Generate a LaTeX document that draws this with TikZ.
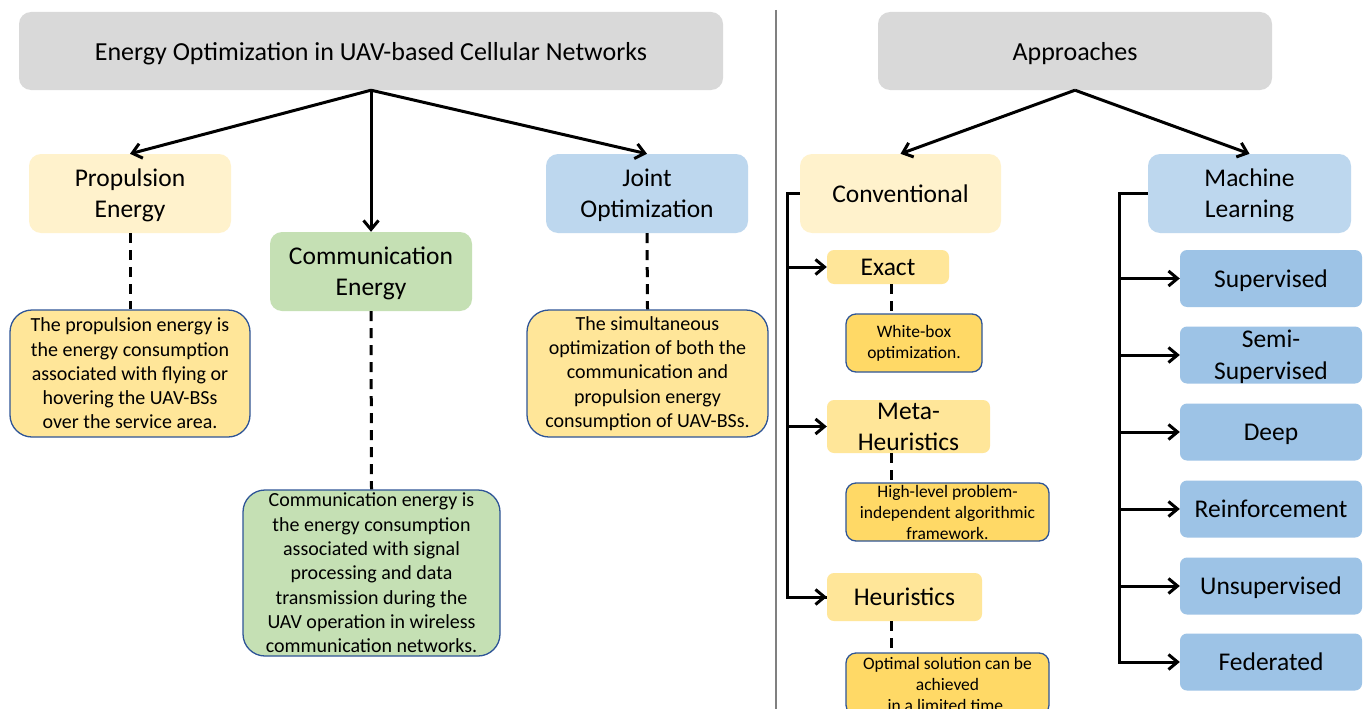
\documentclass[tikz,border=0pt]{standalone}
\usepackage{fontspec}
\setmainfont{Carlito}
\usetikzlibrary{arrows.meta}
\definecolor{titlegray}{HTML}{D9D9D9}
\definecolor{lightyellow}{HTML}{FFF2CC}
\definecolor{midyellow}{HTML}{FFE699}
\definecolor{darkyellow}{HTML}{FFD966}
\definecolor{lightgreen}{HTML}{C5E0B4}
\definecolor{lightblue}{HTML}{BDD7EE}
\definecolor{midblue}{HTML}{9DC3E6}
\definecolor{borderblue}{HTML}{2F5597}
\definecolor{sepgray}{HTML}{808080}
\begin{document}
\begin{tikzpicture}[x=1pt,y=-1pt,
  box/.style={rounded corners=12pt, inner sep=0pt, align=center, text depth=0pt, font=\fontsize{25.5}{31}\selectfont},
  subbox/.style={rounded corners=7pt, inner sep=0pt, align=center, text depth=0pt, font=\fontsize{25.5}{31}\selectfont},
  desc/.style={draw=borderblue, line width=1.3pt, rounded corners=22pt, inner sep=0pt, align=center, font=\fontsize{20}{24.3}\selectfont},
  smalldesc/.style={draw=borderblue, line width=1.3pt, rounded corners=10pt, inner sep=0pt, align=center, font=\fontsize{17.5}{21}\selectfont},
  arr/.style={line width=3pt, -{Straight Barb[length=9pt,width=15pt,line width=3pt]}},
  dashline/.style={line width=3pt, dash pattern=on 10pt off 7pt}
]
\clip (0,0) rectangle (1370,709);
\fill[white] (0,0) rectangle (1370,709);

% separator
\draw[sepgray, line width=1.5pt] (776,10) -- (776,709);

% left side
\node[box, fill=titlegray, minimum width=704, minimum height=78, font=\fontsize{26}{31}\selectfont] (title) at (371,51) {Energy Optimization in UAV-based Cellular Networks};
\node[box, fill=lightyellow, minimum width=202, minimum height=79] (prop) at (130,193.5) {Propulsion\\Energy};
\node[box, fill=lightgreen, minimum width=202, minimum height=79] (comm) at (371,271.5) {Communication\\Energy};
\node[box, fill=lightblue, minimum width=202, minimum height=79] (joint) at (647,193.5) {Joint\\Optimization};

\node[desc, fill=midyellow, minimum width=240, minimum height=127] (propd) at (130,373.5) {The propulsion energy is\\the energy consumption\\associated with flying or\\hovering the UAV-BSs\\over the service area.};
\node[desc, fill=lightgreen, minimum width=257, minimum height=166] (commd) at (371.5,573) {Communication energy is\\the energy consumption\\associated with signal\\processing and data\\transmission during the\\UAV operation in wireless\\communication networks.};
\node[desc, fill=midyellow, minimum width=241, minimum height=127] (jointd) at (647.5,373.5) {The simultaneous\\optimization of both the\\communication and\\propulsion energy\\consumption of UAV-BSs.};

\draw[arr] (title.south) -- (prop.north);
\draw[arr] (title.south) -- (comm.north);
\draw[arr] (title.south) -- (joint.north);

\draw[dashline] (prop.south) -- (propd.north);
\draw[dashline] (comm.south) -- (commd.north);
\draw[dashline] (joint.south) -- (jointd.north);

% right side
\node[box, fill=titlegray, minimum width=394, minimum height=78, font=\fontsize{26}{31}\selectfont] (appr) at (1075,51) {Approaches};
\node[box, fill=lightyellow, minimum width=201, minimum height=79] (conv) at (900.5,193.5) {Conventional};
\node[box, fill=lightblue, minimum width=203, minimum height=79] (ml) at (1249.5,193.5) {Machine\\Learning};

\draw[arr] (appr.south) -- (conv.north);
\draw[arr] (appr.south) -- (ml.north);

\node[subbox, fill=midyellow, minimum width=122, minimum height=34] (exact) at (888,267) {Exact};
\node[smalldesc, fill=darkyellow, minimum width=136, minimum height=58] (wb) at (914,343) {White-box\\optimization.};
\node[subbox, fill=midyellow, minimum width=163, minimum height=53] (meta) at (908.5,426.5) {Meta-\\Heuristics};
\node[smalldesc, fill=darkyellow, minimum width=203, minimum height=58] (hl) at (947.5,512) {High-level problem-\\independent algorithmic\\framework.};
\node[subbox, fill=midyellow, minimum width=155, minimum height=48] (heur) at (904.5,597) {Heuristics};
\node[smalldesc, fill=darkyellow, minimum width=203, minimum height=62] (opt) at (947.5,684) {Optimal solution can be\\achieved\\in a limited time.};

\draw[line width=3pt] (conv.west) -- ++(-12,0) |- (heur.west);
\draw[arr] (conv.west) -- ++(-12,0) |- (exact.west);
\draw[arr] (conv.west) -- ++(-12,0) |- (meta.west);
\draw[arr] (conv.west) -- ++(-12,0) |- (heur.west);

\draw[dashline] ([xshift=3pt]exact.south) -- ([xshift=3pt]exact.south |- wb.north);
\draw[dashline] ([xshift=-17.5pt]meta.south) -- ([xshift=-17.5pt]meta.south |- hl.north);
\draw[dashline] ([xshift=-13.5pt]heur.south) -- ([xshift=-13.5pt]heur.south |- opt.north);

\foreach \n/\y/\t in {sup/278.5/Supervised, semi/355/{Semi-\\Supervised}, deep/432/Deep, reinf/509/Reinforcement, unsup/586/Unsupervised, fed/662/Federated}{
  \node[subbox, fill=midblue, minimum width=182, minimum height=57, font=\fontsize{25.5}{32}\selectfont] (\n) at (1271,\y) {\t};
}
\foreach \n in {sup,semi,deep,reinf,unsup,fed}{
  \draw[arr] (ml.west) -- ++(-28,0) |- (\n.west);
}
\end{tikzpicture}
\end{document}
